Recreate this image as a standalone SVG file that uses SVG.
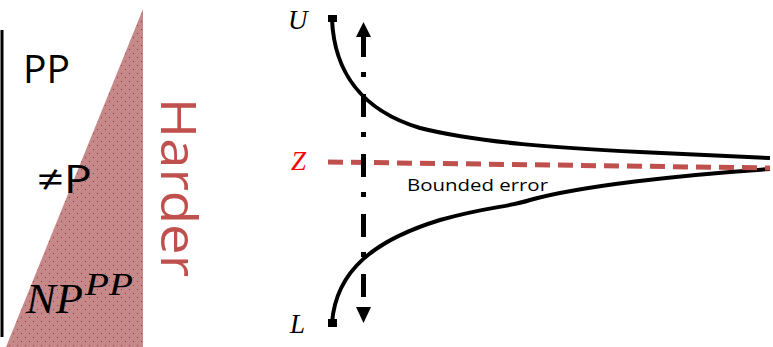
<svg xmlns="http://www.w3.org/2000/svg" width="773" height="347" viewBox="0 0 773 347">
<defs>
<style>
.lbl{font-family:"Open Sans","Liberation Sans",sans-serif;fill:#000}
.math{font-family:"Liberation Serif","DejaVu Serif",serif;font-style:italic}
.curve{fill:none;stroke:#000;stroke-width:4;stroke-linecap:butt}
</style>
<pattern id="dots" width="8" height="8" patternUnits="userSpaceOnUse">
<rect width="8" height="8" fill="#c6898a"/>
<rect x="1" y="1" width="1" height="1" fill="#a8323a"/>
<rect x="5" y="5" width="1" height="1" fill="#a8323a"/>
</pattern>
</defs>
<g id="scale">
<line x1="2" y1="30" x2="2" y2="337" stroke="#000" stroke-width="3"/>
<polygon points="143,9 143,347 6,347" fill="url(#dots)"/>
</g>
<g id="label-pp"><text class="lbl" x="23" y="83" font-size="38" textLength="47" lengthAdjust="spacingAndGlyphs">PP</text></g>
<g id="label-neqp"><text class="lbl" x="37" y="193" font-size="38" textLength="55" lengthAdjust="spacingAndGlyphs">≠P</text></g>
<g id="label-nppp"><text class="math" x="26" y="313" font-size="42" textLength="57" lengthAdjust="spacingAndGlyphs">NP</text><text class="math" x="85" y="295" font-size="31" textLength="48" lengthAdjust="spacingAndGlyphs">PP</text></g>
<g id="label-harder"><text transform="translate(161,98) rotate(90)" font-family="Open Sans, Liberation Sans, sans-serif" font-size="50" fill="#c0504d" textLength="179" lengthAdjust="spacingAndGlyphs">Harder</text></g>

<g id="connectors">
<path class="curve" d="M332,19 C334,70 360,110 420,128 C480,143 560,148 640,152 C700,155 740,157 770,158"/>
<path class="curve" d="M332,323 C336,270 375,240 440,220 C490,206 505,208 530,200 C580,186 680,175 770,169"/>
<rect x="328" y="15" width="9" height="7" fill="#000"/>
<rect x="328" y="319" width="9" height="8" fill="#000"/>
<line x1="328" y1="162" x2="770" y2="168" stroke="#c0504d" stroke-width="5" stroke-dasharray="15 8"/>
<line x1="363.5" y1="34" x2="363.5" y2="308" stroke="#000" stroke-width="5" stroke-dasharray="23 15 5 17"/>
<polygon points="363.5,22 371,37 356,37" fill="#000"/>
<polygon points="363.5,323 371,307 356,307" fill="#000"/>
</g>
<g id="label-u"><text class="math" x="288" y="29" font-size="27">U</text></g>
<g id="label-z"><text class="math" x="291" y="170" font-size="27" fill="#ff0000">Z</text></g>
<g id="label-l"><text class="math" x="290" y="333" font-size="27">L</text></g>
<g id="label-bounded"><text class="lbl" x="407" y="191" font-size="17" textLength="141" lengthAdjust="spacingAndGlyphs">Bounded error</text></g>
</svg>
